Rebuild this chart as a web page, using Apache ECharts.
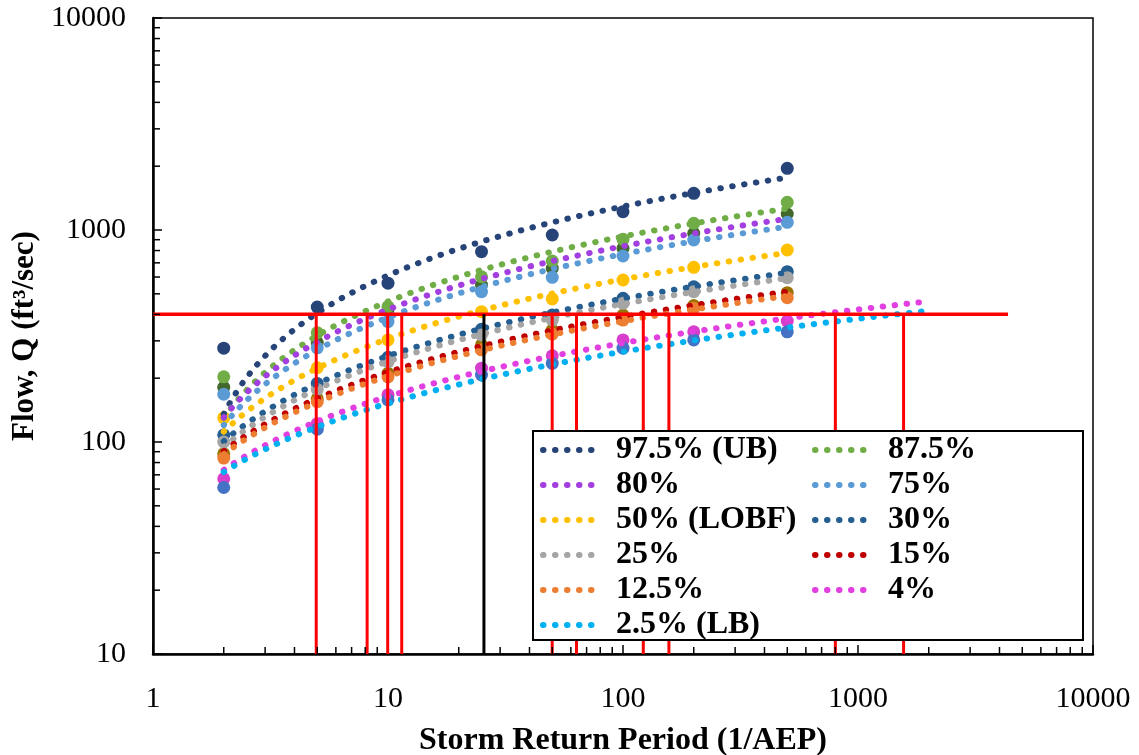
<!DOCTYPE html>
<html lang="en">
<head>
<meta charset="UTF-8">
<title>Flow vs Storm Return Period</title>
<style>
  html, body { margin: 0; padding: 0; background: #fff; }
  #chart { width: 1139px; height: 755px; }
</style>
</head>
<body>
<div id="chart"></div>
<script src="https://cdn.jsdelivr.net/npm/echarts@6/dist/echarts.min.js"></script>
<script type="text/javascript">
// return periods (years) of the estimated flows
var periods = [2, 5, 10, 25, 50, 100, 200, 500];

// flows (ft3/sec) read at each return period, one list per percentile
var q975 = [277, 433, 561, 790, 947, 1220, 1490, 1954];
var q875 = [203, 328, 435, 602, 714, 904, 1076, 1351];
var q80  = [181, 294, 420, 550, 660, 820, 965, 1190];
var q75  = [168, 278, 370, 512, 598, 754, 897, 1087];
var q50  = [130, 224, 303, 412, 473, 581, 667, 805];
var q30  = [108, 189, 251, 340, 397, 476, 540, 636];
var q25  = [100, 177, 239, 320, 376, 451, 512, 596];
var q15  = [88, 160, 211, 287, 337, 397, 440, 506];
var q125 = [84, 155, 203, 272, 323, 376, 427, 479];
var q4   = [67, 122, 167, 223, 255, 303, 331, 372];
var q25lb = [61, 115, 158, 207, 235, 277, 303, 331];

var names = ['97.5% (UB)', '87.5%', '80%', '75%', '50% (LOBF)', '30%', '25%', '15%', '12.5%', '4%', '2.5% (LB)'];
var flows = [q975, q875, q80, q75, q50, q30, q25, q15, q125, q4, q25lb];
// how far each trendline runs (forecast for the two lowest)
var trendEnds = [500, 500, 500, 500, 500, 500, 500, 500, 500, 2000, 2000];

// target flow and where each trendline meets it
var targetFlow = 400;
var targetEnd = 4350;
var floorFlow = 10;
var crossings = [4.95, 8.15, 9.97, 11.44, 49.96, 63.4, 122, 156.8, 801, 1563];
var designPeriod = 25.6;

// minor tick values on the log axes
var xMinor = [2, 3, 4, 5, 6, 7, 8, 9, 20, 30, 40, 50, 60, 70, 80, 90,
              200, 300, 400, 500, 600, 700, 800, 900, 2000, 3000, 4000, 5000, 6000, 7000, 8000, 9000];
var yMinor = [20, 30, 40, 50, 60, 70, 80, 90, 200, 300, 400, 500, 600, 700, 800, 900,
              2000, 3000, 4000, 5000, 6000, 7000, 8000, 9000];

var lineColors = ['#264478', '#70AD47', '#A33FE0', '#5B9BD5', '#FFC000', '#255E91',
                  '#A5A5A5', '#C00000', '#ED7D31', '#E23FE0', '#00B0F0'];
var dotColors = ['#264478', '#70AD47', '#43682B', '#5B9BD5', '#FFC000', '#255E91',
                 '#A5A5A5', '#997300', '#ED7D31', '#D63ECB', '#4472C4'];

var FONT = "'Liberation Serif', 'Times New Roman', serif";

// excel style logarithmic trendline: y = a ln(x) + b
function logFit(xs, ys) {
    var n = xs.length, sx = 0, sy = 0, sxx = 0, sxy = 0;
    for (var i = 0; i < n; i++) {
        var lx = Math.log(xs[i]);
        sx += lx; sy += ys[i]; sxx += lx * lx; sxy += lx * ys[i];
    }
    var a = (n * sxy - sx * sy) / (n * sxx - sx * sx);
    var b = (sy - a * sx) / n;
    return function (x) { return a * Math.log(x) + b; };
}

function trendPoints(xs, ys, xEnd) {
    var f = logFit(xs, ys);
    var lo = Math.log10(xs[0]), hi = Math.log10(xEnd);
    var pts = [];
    for (var k = 0; k <= 120; k++) {
        var x = Math.pow(10, lo + (hi - lo) * k / 120);
        pts.push([x, f(x)]);
    }
    return pts;
}

var series = [];

// the estimated points (drawn under the trendlines)
var dotOrder = [7, 5, 2, 9, 10, 8, 6, 4, 3, 1, 0];
dotOrder.forEach(function (i) {
    series.push({
        type: 'scatter',
        name: names[i] + ' pts',
        data: periods.map(function (p, k) { return [p, flows[i][k]]; }),
        symbolSize: 13,
        itemStyle: { color: dotColors[i], opacity: 1 },
        silent: true,
        z: 2
    });
});

names.forEach(function (nm, i) {
    series.push({
        type: 'line',
        name: nm,
        data: trendPoints(periods, flows[i], trendEnds[i]),
        symbol: 'none',
        showSymbol: false,
        lineStyle: { color: lineColors[i], width: 6, type: [0.5, 11.5], cap: 'round' },
        itemStyle: { color: lineColors[i] },
        silent: true,
        z: 3
    });
});

// target flow line
series.push({
    type: 'line',
    name: 'target',
    data: [[1, targetFlow], [targetEnd, targetFlow]],
    symbol: 'none',
    lineStyle: { color: '#FF0000', width: 3.5 },
    silent: true,
    z: 5
});

crossings.forEach(function (c) {
    series.push({
        type: 'line',
        name: 'crossing',
        data: [[c, targetFlow], [c, floorFlow]],
        symbol: 'none',
        lineStyle: { color: '#FF0000', width: 3 },
        silent: true,
        z: 5
    });
});

series.push({
    type: 'line',
    name: 'design',
    data: [[designPeriod, targetFlow], [designPeriod, floorFlow]],
    symbol: 'none',
    lineStyle: { color: '#000000', width: 3 },
    silent: true,
    z: 5
});

// minor ticks (log spaced, inside)
series.push({
    type: 'custom',
    silent: true,
    z: 6,
    clip: false,
    data: xMinor.map(function (v) { return [v, floorFlow]; }),
    renderItem: function (params, api) {
        var p = api.coord([api.value(0), api.value(1)]);
        return { type: 'line', shape: { x1: p[0], y1: p[1], x2: p[0], y2: p[1] - 7 },
                 style: { stroke: '#000', lineWidth: 1.5 } };
    }
});
series.push({
    type: 'custom',
    silent: true,
    z: 6,
    clip: false,
    data: yMinor.map(function (v) { return [1, v]; }),
    renderItem: function (params, api) {
        var p = api.coord([api.value(0), api.value(1)]);
        return { type: 'line', shape: { x1: p[0], y1: p[1], x2: p[0] + 7, y2: p[1] },
                 style: { stroke: '#000', lineWidth: 1.5 } };
    }
});

var legendText = { fontFamily: FONT, fontWeight: 'bold', fontSize: 32, color: '#000', padding: [0, 0, 0, 8] };
var legendBase = {
    orient: 'vertical', top: 434, itemGap: 3, z: 20,
    itemWidth: 60, itemHeight: 20, selectedMode: false, padding: 0,
    itemStyle: { opacity: 0, color: 'rgba(0,0,0,0)', borderColor: 'rgba(0,0,0,0)', borderWidth: 0 },
    lineStyle: { width: 6 },
    textStyle: legendText
};

var option = {
    animation: false,
    backgroundColor: '#fff',
    grid: { left: 153, right: 46, top: 18, bottom: 101, outerBoundsMode: 'none', containLabel: false,
            show: true, borderColor: '#000', borderWidth: 1.5 },
    xAxis: {
        type: 'log', logBase: 10, min: 1, max: 10000,
        name: 'Storm Return Period (1/AEP)',
        nameLocation: 'middle', nameGap: 71,
        nameTextStyle: { fontFamily: FONT, fontWeight: 'bold', fontSize: 32, color: '#000' },
        axisLine: { show: true, lineStyle: { color: '#000', width: 2.5 } },
        axisTick: { show: true, inside: true, length: 9, lineStyle: { color: '#000', width: 1.5 } },
        splitLine: { show: false },
        axisLabel: { fontFamily: FONT, fontSize: 30, color: '#000', margin: 30,
                     formatter: function (v) { return String(Math.round(v)); } }
    },
    yAxis: {
        type: 'log', logBase: 10, min: 10, max: 10000,
        name: 'Flow, Q (ft\u00B3/sec)',
        nameLocation: 'middle', nameGap: 104,
        nameTextStyle: { fontFamily: FONT, fontWeight: 'bold', fontSize: 31, color: '#000' },
        axisLine: { show: true, lineStyle: { color: '#000', width: 2.5 } },
        axisTick: { show: true, inside: true, length: 9, lineStyle: { color: '#000', width: 1.5 } },
        splitLine: { show: false },
        axisLabel: { fontFamily: FONT, fontSize: 30, color: '#000', margin: 27,
                     formatter: function (v) { return String(Math.round(v)); } }
    },
    graphic: [{
        type: 'rect',
        z: 10,
        silent: true,
        shape: { x: 533, y: 431, width: 550, height: 209 },
        style: { fill: '#fff', stroke: '#000', lineWidth: 2 }
    }],
    legend: [
        Object.assign({}, legendBase, { left: 540, data: ['97.5% (UB)', '80%', '50% (LOBF)', '25%', '12.5%', '2.5% (LB)'] }),
        Object.assign({}, legendBase, { left: 812, data: ['87.5%', '75%', '30%', '15%', '4%'] })
    ],
    series: series
};

var chart = echarts.init(document.getElementById('chart'));
chart.setOption(option);
</script>
</body>
</html>
